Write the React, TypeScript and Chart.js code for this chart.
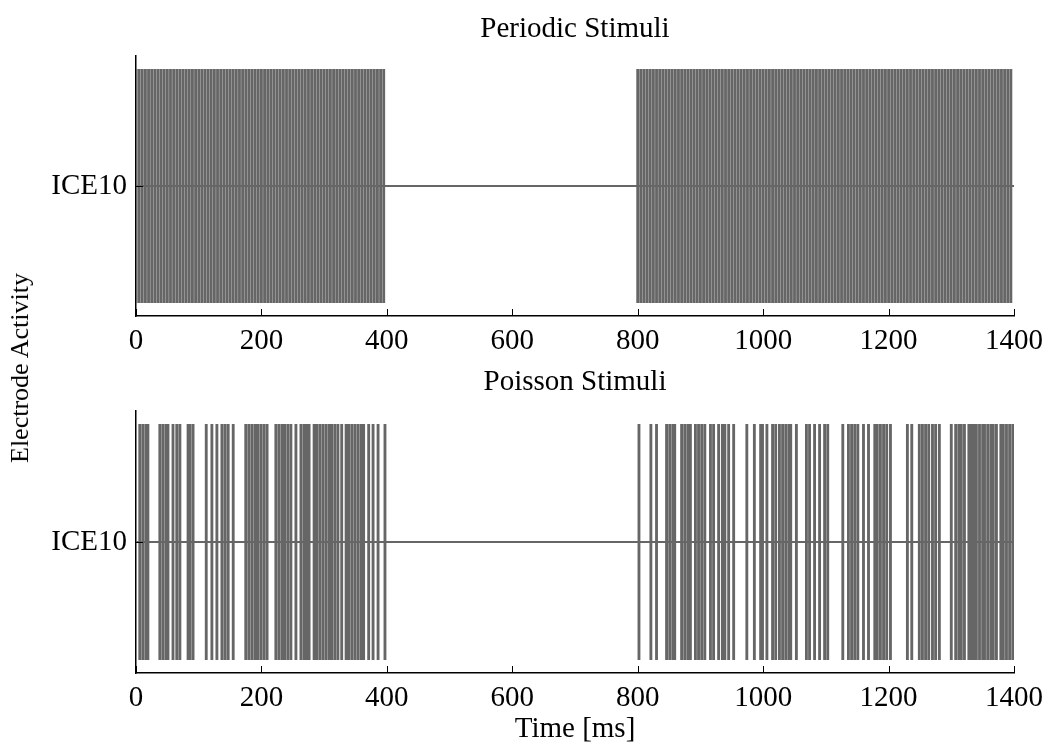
import React, { useEffect, useRef } from "react";
import { Chart, registerables } from "chart.js";

Chart.register(...registerables);

// Recorded channel and axis ticks
const CHANNEL = "ICE10";
const X_TICKS = [0, 200, 400, 600, 800, 1000, 1200, 1400];

// Stimulus onset times [ms] for the periodic train
const PERIODIC_TIMES = [
  0, 5, 10, 15, 20, 25, 30, 35, 40, 45, 50, 55, 60, 65, 70, 75, 80, 85, 90, 95,
  100, 105, 110, 115, 120, 125, 130, 135, 140, 145, 150, 155, 160, 165, 170, 175, 180, 185, 190, 195,
  200, 205, 210, 215, 220, 225, 230, 235, 240, 245, 250, 255, 260, 265, 270, 275, 280, 285, 290, 295,
  300, 305, 310, 315, 320, 325, 330, 335, 340, 345, 350, 355, 360, 365, 370, 375, 380, 385, 390, 395,
  800, 805, 810, 815, 820, 825, 830, 835, 840, 845, 850, 855, 860, 865, 870, 875, 880, 885, 890, 895,
  900, 905, 910, 915, 920, 925, 930, 935, 940, 945, 950, 955, 960, 965, 970, 975, 980, 985, 990, 995,
  1000, 1005, 1010, 1015, 1020, 1025, 1030, 1035, 1040, 1045, 1050, 1055, 1060, 1065, 1070, 1075, 1080, 1085, 1090, 1095,
  1100, 1105, 1110, 1115, 1120, 1125, 1130, 1135, 1140, 1145, 1150, 1155, 1160, 1165, 1170, 1175, 1180, 1185, 1190, 1195,
  1200, 1205, 1210, 1215, 1220, 1225, 1230, 1235, 1240, 1245, 1250, 1255, 1260, 1265, 1270, 1275, 1280, 1285, 1290, 1295,
  1300, 1305, 1310, 1315, 1320, 1325, 1330, 1335, 1340, 1345, 1350, 1355, 1360, 1365, 1370, 1375, 1380, 1385, 1390, 1395,
];

// Stimulus onset times [ms] for the Poisson train
const POISSON_TIMES = [
  6, 11, 16, 19, 38, 43, 48, 51, 59, 65, 70, 83, 86, 91, 112, 121, 129, 137, 142, 147,
  155, 175, 180, 185, 190, 194, 199, 204, 209, 223, 228, 233, 237, 242, 247, 255, 263, 268, 272, 276,
  284, 288, 293, 298, 303, 308, 312, 317, 322, 328, 335, 339, 344, 349, 354, 359, 363, 371, 378, 386, 397,
  802, 821, 830, 846, 851, 856, 859, 870, 875, 880, 884, 892, 897, 902, 907, 916, 921, 929, 935, 939,
  945, 953, 974, 986, 996, 999, 1006, 1015, 1020, 1026, 1031, 1036, 1041, 1044, 1053, 1069, 1074, 1082, 1090, 1098,
  1103, 1127, 1136, 1141, 1146, 1151, 1160, 1168, 1178, 1182, 1187, 1192, 1197, 1203, 1230, 1237, 1249, 1254, 1259, 1264,
  1270, 1275, 1281, 1300, 1307, 1312, 1316, 1321, 1328, 1332, 1336, 1340, 1345, 1350, 1353, 1358, 1363, 1367, 1372, 1379,
  1383, 1388, 1393, 1398,
];

const FONT = "'Liberation Serif', 'Times New Roman', serif";
const FONT_SIZE = 29;
const YLABEL_SIZE = 26;
const TRACE = "#666666";

// Each stimulus is a vertical stroke spanning the full amplitude range
function spikePoints(times: number[]) {
  const pts: { x: number; y: number | null }[] = [];
  for (const t of times) {
    pts.push({ x: t, y: -1 }, { x: t, y: 1 }, { x: t, y: null });
  }
  return pts;
}

// Small inward tick marks on both axes
const inwardTicks = {
  id: "inwardTicks",
  afterDatasetsDraw(chart: any) {
    const { ctx, chartArea, scales } = chart;
    ctx.save();
    ctx.strokeStyle = "#000";
    ctx.lineWidth = 1;
    ctx.beginPath();
    for (const v of X_TICKS) {
      const px = Math.round(scales.x.getPixelForValue(v)) + 0.5;
      ctx.moveTo(px, chartArea.bottom);
      ctx.lineTo(px, chartArea.bottom - 7);
    }
    const py = Math.round(scales.y.getPixelForValue(0)) + 0.5;
    ctx.moveTo(chartArea.left, py);
    ctx.lineTo(chartArea.left + 7, py);
    ctx.stroke();
    ctx.restore();
  },
};

type Dims = { titleGap: number; xHeight: number; xTitle?: string };

function buildConfig(title: string, times: number[], dims: Dims): any {
  const font = { family: FONT, size: FONT_SIZE, weight: "normal" as const };
  return {
    type: "line",
    data: {
      datasets: [
        {
          data: spikePoints(times),
          borderColor: TRACE,
          borderWidth: 2.85,
          borderCapStyle: "butt",
          pointRadius: 0,
          spanGaps: false,
          tension: 0,
        },
        {
          data: [
            { x: 0, y: 0 },
            { x: 1400, y: 0 },
          ],
          borderColor: TRACE,
          borderWidth: 2,
          pointRadius: 0,
        },
      ],
    },
    options: {
      animation: false,
      responsive: false,
      maintainAspectRatio: false,
      events: [],
      layout: { padding: { left: 0, right: 34, top: 0, bottom: 0 } },
      plugins: {
        legend: { display: false },
        tooltip: { enabled: false },
        title: {
          display: true,
          fullSize: false,
          text: title,
          color: "#000",
          font,
          padding: { top: 12, bottom: dims.titleGap },
        },
      },
      scales: {
        x: {
          type: "linear",
          min: 0,
          max: 1400,
          grid: { display: false, drawTicks: false },
          border: { display: true, color: "#000", width: 1.5 },
          afterBuildTicks: (s: any) => {
            s.ticks = X_TICKS.map((v) => ({ value: v }));
          },
          ticks: {
            color: "#000",
            font,
            padding: 8,
            maxRotation: 0,
            autoSkip: false,
            callback: (v: number) => String(v),
          },
          title: dims.xTitle
            ? {
                display: true,
                text: dims.xTitle,
                color: "#000",
                font: { ...font, lineHeight: 1 },
                padding: { top: 0, bottom: 0 },
              }
            : { display: false },
          afterFit: (s: any) => {
            s.height = dims.xHeight;
            s.paddingLeft = 0;
            s.paddingRight = 0;
          },
        },
        y: {
          type: "linear",
          min: -1.11,
          max: 1.11,
          grid: { display: false, drawTicks: false },
          border: { display: true, color: "#000", width: 1.5 },
          afterBuildTicks: (s: any) => {
            s.ticks = [{ value: 0 }];
          },
          ticks: { color: "#000", font, padding: 9, callback: () => CHANNEL },
          afterFit: (s: any) => {
            s.width = 136;
            s.paddingTop = 0;
            s.paddingBottom = 0;
          },
        },
      },
    },
    plugins: [inwardTicks],
  };
}

function Panel(props: { title: string; times: number[]; top: number; height: number; dims: Dims }) {
  const ref = useRef<HTMLCanvasElement | null>(null);
  useEffect(() => {
    if (!ref.current) return;
    const chart = new Chart(ref.current, buildConfig(props.title, props.times, props.dims));
    return () => chart.destroy();
  }, []);
  return (
    <canvas
      ref={ref}
      width={1048}
      height={props.height}
      style={{ position: "absolute", left: 0, top: props.top, width: 1048, height: props.height, display: "block" }}
    />
  );
}

export default function App() {
  return (
    <div style={{ position: "absolute", left: 0, top: 0, width: 1048, height: 744, background: "#fff", overflow: "hidden" }}>
      <Panel title="Periodic Stimuli" times={PERIODIC_TIMES} top={0} height={352} dims={{ titleGap: 9.2, xHeight: 36 }} />
      <Panel
        title="Poisson Stimuli"
        times={POISSON_TIMES}
        top={353}
        height={391}
        dims={{ titleGap: 11.2, xHeight: 71, xTitle: "Time [ms]" }}
      />
      <div
        style={{
          position: "absolute",
          left: 20,
          top: 368,
          transform: "translate(-50%, -50%) rotate(-90deg)",
          fontFamily: FONT,
          fontSize: YLABEL_SIZE,
          color: "#000",
          whiteSpace: "nowrap",
          lineHeight: 1,
        }}
      >
        Electrode Activity
      </div>
    </div>
  );
}
